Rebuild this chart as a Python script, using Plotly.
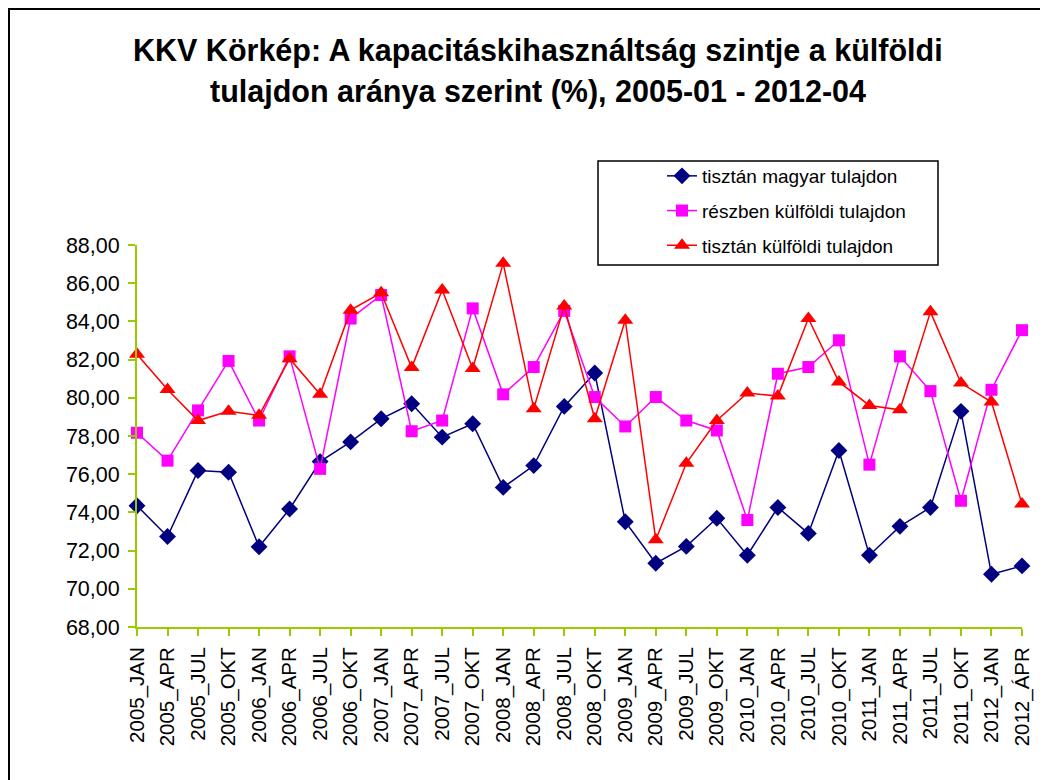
import plotly.graph_objects as go

categories = [
    "2005_JAN", "2005_APR", "2005_JUL", "2005_OKT",
    "2006_JAN", "2006_APR", "2006_JUL", "2006_OKT",
    "2007_JAN", "2007_APR", "2007_JUL", "2007_OKT",
    "2008_JAN", "2008_APR", "2008_JUL", "2008_OKT",
    "2009_JAN", "2009_APR", "2009_JUL", "2009_OKT",
    "2010_JAN", "2010_APR", "2010_JUL", "2010_OKT",
    "2011_JAN", "2011_APR", "2011_JUL", "2011_OKT",
    "2012_JAN", "2012_ÁPR",
]

magyar = [74.35, 72.74, 76.19, 76.10, 72.20, 74.18, 76.66, 77.69, 78.90, 79.69,
          77.94, 78.64, 75.31, 76.45, 79.55, 81.30, 73.51, 71.34, 72.22, 73.69,
          71.76, 74.26, 72.90, 77.24, 71.76, 73.27, 74.26, 79.29, 70.76, 71.20]

reszben = [78.17, 76.71, 79.34, 81.93, 78.81, 82.17, 76.28, 84.15, 85.38, 78.25,
           78.81, 84.68, 80.18, 81.61, 84.55, 80.04, 78.50, 80.04, 78.81, 78.29,
           73.60, 81.26, 81.61, 83.01, 76.50, 82.17, 80.35, 74.61, 80.42, 83.54]

kulfoldi = [82.28, 80.44, 78.81, 79.30, 79.08, 82.05, 80.18, 84.59, 85.50, 81.58,
            85.64, 81.53, 87.04, 79.43, 84.80, 78.90, 84.06, 72.57, 76.57, 78.81,
            80.25, 80.09, 84.15, 80.83, 79.60, 79.37, 84.50, 80.77, 79.78, 74.44]

series_names = ["tisztán magyar tulajdon", "részben külföldi tulajdon", "tisztán külföldi tulajdon"]

OFF = 8  # page body margin
W, H = 1048 - OFF, 780 - OFF
L, R, T, B = 137 - OFF, 1022 - OFF, 245 - OFF, 627 - OFF  # plot area (figure px)


def px(x):
    # x given in page pixels
    return (x - OFF - L) / (R - L)


def py(y):
    return (B - (y - OFF)) / (B - T)


FONT = "Arial, Liberation Sans, sans-serif"
fig = go.Figure()
x_idx = list(range(len(categories)))

specs = [
    (magyar, series_names[0], "#000080", "diamond", 13),
    (reszben, series_names[1], "#FF00FF", "square", 12),
    (kulfoldi, series_names[2], "#FF0000", "triangle-up", 14),
]
for i, (vals, name, col, sym, size) in enumerate(specs):
    fig.add_trace(go.Scatter(
        x=x_idx, y=vals, name=name, mode="lines+markers",
        line=dict(color=col, width=1.5),
        marker=dict(symbol=sym, size=size, color=col, line=dict(width=0)),
        cliponaxis=False, legendgroup=str(i),
    ))

fig.update_layout(
    width=W, height=H,
    margin=dict(l=L, r=W - R, t=T, b=H - B),
    paper_bgcolor="white", plot_bgcolor="white",
    separators=", ",
    font=dict(family=FONT, color="black"),
    showlegend=True,
    legend=dict(
        x=px(662), y=py(157), xanchor="left", yanchor="top",
        bgcolor="rgba(0,0,0,0)", borderwidth=0,
        font=dict(size=19, family=FONT),
        traceorder="grouped", tracegroupgap=7,
    ),
    xaxis=dict(
        range=[0, len(categories) - 1],
        tickmode="array", tickvals=x_idx, ticktext=categories,
        tickangle=-90, tickfont=dict(size=20.5),
        ticklabelstandoff=3,
        showgrid=False, zeroline=False,
        showline=True, linecolor="#99CC00", linewidth=2,
        ticks="outside", ticklen=7, tickcolor="#99CC00", tickwidth=2,
    ),
    yaxis=dict(
        range=[68, 88], dtick=2, tick0=68, tickformat=".2f",
        tickfont=dict(size=21.5),
        ticklabelstandoff=4,
        showgrid=False, zeroline=False,
        showline=True, linecolor="#99CC00", linewidth=2,
        ticks="outside", ticklen=7, tickcolor="#99CC00", tickwidth=2,
    ),
    annotations=[
        dict(text="<b>KKV Körkép: A kapacitáskihasználtság szintje a külföldi</b>",
             x=px(538), y=py(50), xref="paper", yref="paper", showarrow=False,
             xanchor="center", yanchor="middle",
             font=dict(size=30.5, family=FONT)),
        dict(text="<b>tulajdon aránya szerint (%), 2005-01 - 2012-04</b>",
             x=px(538), y=py(92), xref="paper", yref="paper", showarrow=False,
             xanchor="center", yanchor="middle",
             font=dict(size=30.5, family=FONT)),
    ],
    shapes=[
        dict(type="rect", xref="paper", yref="paper",
             x0=px(9), x1=px(1070), y0=py(9), y1=py(800),
             line=dict(color="black", width=2), layer="below"),
        dict(type="rect", xref="paper", yref="paper",
             x0=px(598), x1=px(938), y0=py(161), y1=py(265),
             line=dict(color="black", width=1.5), layer="above"),
    ],
)

fig.write_html("out.html")
